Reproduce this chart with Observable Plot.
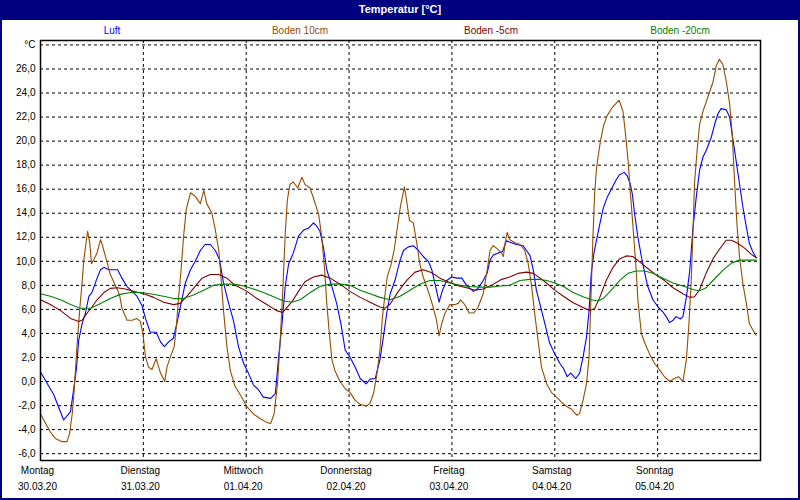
<!DOCTYPE html>
<html>
<head>
<meta charset="utf-8">
<script src="https://cdn.jsdelivr.net/npm/d3@7"></script>
<script src="https://cdn.jsdelivr.net/npm/@observablehq/plot@0.6"></script>
<style>
  html, body { margin: 0; padding: 0; background: #fff; overflow: hidden; }
  #wrap { position: relative; width: 800px; height: 500px; background: #fff; font-family: "Liberation Sans", Arial, sans-serif; }
  #wrap svg { position: absolute; left: 0; top: 0; }
  #titlebar { position: absolute; left: 0; top: 0; width: 800px; height: 20px; background: #000080; color: #fff;
    font-weight: bold; font-size: 11px; line-height: 18px; text-align: center; }
  .leg { position: absolute; top: 25px; font-size: 10px; line-height: 12px; transform: translateX(-50%); white-space: nowrap; }
  .bord { position: absolute; background: #000080; }
</style>
</head>
<body>
<div id="wrap">
  <div id="chart"></div>
</div>
<script>
// ---- data ----
const seriesNames = ["Luft", "Boden 10cm", "Boden -5cm", "Boden -20cm"];
const seriesColors = ["#0000ff", "#964b00", "#800000", "#008000"];
const dayNames = ["Montag", "Dienstag", "Mittwoch", "Donnerstag", "Freitag", "Samstag", "Sonntag"];
const dayDates = ["30.03.20", "31.03.20", "01.04.20", "02.04.20", "03.04.20", "04.04.20", "05.04.20"];
const dayHours = [0, 24, 48, 72, 96, 120, 144];
const yTicks = [-6, -4, -2, 0, 2, 4, 6, 8, 10, 12, 14, 16, 18, 20, 22, 24, 26, 28];

// hours since Monday 30.03.20 00:00 and temperature (°C)
const luftH = [0,3.1,5.4,7,7.6,8.4,8.9,9.7,10.5,11.3,12,13.2,14,14.8,15.9,17.1,18,19,20.2,21.4,22.5,23.7,24.5,25.6,27,28,28.9,29.9,31,31.8,32.8,33.8,35,36.1,37.3,38.4,39.6,40.8,41.8,42.7,43.9,45,46.2,47.4,48.5,49.7,50.9,52,53.7,54.8,55.5,56.3,57.1,57.9,59,60.2,61.4,62.5,63.7,64.5,65.2,66,66.8,68,69.1,70.1,71.1,72.2,73.4,74.6,76,76.9,78.1,79.2,80,80.8,81.6,82.7,83.9,84.7,85.8,87,88.2,89.3,90.5,91.3,92,93,93.8,94.8,95.9,97.1,98.3,99.4,101,102.1,103.3,104.2,104.9,105.6,106.8,107.8,108.7,109.9,111,112.6,113.4,114.2,115,115.7,116.5,117.7,118.8,120,121.2,122,122.9,123.7,124.9,125.8,126.6,127.4,128,128.5,129.1,129.7,130.5,131.3,132.2,133.2,134.2,135.1,136.2,136.9,137.6,138.1,138.6,139.4,140.2,141,141.7,142.9,144.1,145.2,146,146.8,147.6,148.3,149.3,149.9,150.7,151.5,152.2,153,153.8,154.6,155.3,156.5,157.3,158.1,158.8,160,160.8,161.5,162.3,163.1,163.9,164.7,165.4,166.2,167];
const luftV = [0.8,-1.1,-3.2,-2.5,-1.0,1.1,3.4,4.8,5.7,7.1,7.4,8.6,9.3,9.5,9.3,9.3,9.3,8.6,7.9,7.5,7.1,6.3,5.25,4.1,4.1,3.3,2.9,3.3,3.6,4.8,6.5,8.2,9.3,10.0,10.9,11.4,11.4,10.9,10.1,8.2,6.5,5.1,2.9,1.5,0.7,-0.3,-0.7,-1.3,-1.4,-1.0,1.8,4.6,7.9,9.8,10.7,12.1,12.6,12.75,13.2,12.9,12.5,11.2,9.3,7.9,6.5,4.8,2.6,2.05,1.2,0.25,-0.2,0.2,0.25,1.8,3.7,5.7,7.3,8.4,10.1,10.9,11.2,11.3,10.9,10.4,10.0,9.3,8.2,6.6,7.6,8.4,8.7,8.6,8.6,8.0,7.5,7.75,8.4,9.0,10.1,10.5,10.7,10.8,11.7,11.55,11.4,11.3,10.9,10.5,9.25,7.6,6.5,4.8,3.2,2.3,1.5,1.1,0.4,0.7,0.25,0.7,2.05,3.7,5.9,9.0,10.6,11.7,13.1,14.4,15.3,16.0,16.7,17.2,17.4,17.1,16.45,15.6,14.0,12.0,10.4,9.0,7.9,6.8,6.2,5.8,5.4,4.9,5.1,5.4,5.2,5.4,7.0,9.25,12.6,15.3,17.6,18.7,19.2,20.3,21.4,22.3,22.7,22.6,22.0,20.3,18.4,16.45,14.5,12.85,11.5,10.8,10.3];

const boden10H = [0,1.2,2.3,3.5,5,6.2,6.8,7.4,7.8,8.2,8.5,9.2,9.7,10.1,10.5,11,11.5,11.9,12.4,13.2,14,14.4,15.4,16.3,17.2,18,18.5,19,20.2,21.4,22.4,23.3,23.9,24.5,25.2,26,27,28,29,29.5,30.3,31.2,31.7,32.2,32.8,33.4,34,35,36.1,37.3,38.1,38.8,40,40.8,41.6,42.1,42.7,43.5,44.3,45.4,46.6,48.2,49.7,51.3,52.8,53.7,54.5,55.3,55.9,56.5,57.1,57.6,58.2,59,60,61,61.7,62.9,63.7,64.9,65.6,66.3,66.8,67.4,68,68.7,69.9,71.1,72.2,73.4,74.6,76.1,76.9,77.7,78.4,79.2,79.8,80.4,80.9,81.7,82.5,83.3,84,84.9,85.4,86.1,87,87.8,88.5,89.3,90.1,90.9,91.6,92.4,93,93.6,94.4,95.5,96.7,97.5,98,99,100,101.1,102.1,103.3,104.1,104.9,105.6,106.4,107.3,108,108.4,108.9,109.5,110.7,111.9,113,113.8,114.6,115.3,116.1,116.9,118.1,119.2,120.4,121.5,122.7,123.9,125.1,125.8,126.6,127.4,128,128.5,128.9,129.3,129.7,130.1,130.7,131.4,132.2,133.2,134.2,135,135.9,136.5,137.1,137.6,138.2,138.9,139.4,140.2,141,142.1,143.3,144.5,145.6,146.8,147.9,148.9,149.9,150.7,151.3,151.8,152.2,152.6,153.2,153.8,154.6,155.7,156.9,157.7,158.4,159.2,160,160.8,161.4,161.9,162.5,163.1,163.9,164.7,165.4,166.2,167];
const boden10V = [-2.7,-3.5,-4.2,-4.75,-5.0,-5.0,-4.3,-2.7,-1.0,1.2,2.9,6.2,8.2,10.1,11.2,12.5,11.5,9.8,10.1,10.7,11.8,11.4,10.1,8.9,8.2,7.6,7.1,6.1,5.1,5.1,5.25,5.0,4.0,2.05,1.2,1.0,1.9,0.7,0.0,1.2,2.05,2.9,4.6,6.9,9.3,12.1,14.3,15.7,15.4,14.8,15.9,14.8,14.0,12.6,10.9,8.7,5.9,2.9,0.9,-0.4,-1.1,-2.1,-2.7,-3.1,-3.4,-3.5,-2.7,-0.2,3.2,7.3,12.3,15.1,16.4,16.6,16.1,17.0,16.4,16.1,15.25,13.9,12.1,9.3,6.5,4.0,1.8,0.9,0.0,-0.6,-0.9,-1.55,-1.9,-2.05,-1.8,-1.0,0.4,2.6,5.4,7.3,8.7,9.6,10.9,12.9,14.6,16.2,15.1,13.4,13.2,11.5,9.8,8.7,7.9,7.05,6.2,5.1,3.8,4.8,5.7,6.4,6.4,6.5,6.8,6.4,5.7,5.7,6.2,7.3,9.0,10.9,11.3,11.1,10.8,10.4,11.5,12.4,11.8,11.55,11.4,10.9,9.8,7.9,5.7,3.4,1.2,-0.2,-0.9,-1.3,-1.7,-2.05,-2.3,-2.8,-2.65,-1.55,-0.2,2.05,7.6,12.0,15.6,17.6,18.7,20.1,21.3,22.1,22.7,23.1,23.4,22.5,20.6,18.4,15.9,13.1,9.8,6.75,4.0,3.2,2.3,1.5,0.95,0.4,0.0,0.25,0.4,0.0,1.8,4.8,8.1,12.0,16.45,19.2,21.4,22.5,23.65,24.9,26.3,26.8,26.4,25.0,23.1,20.6,17.0,13.1,10.4,8.1,6.5,4.8,4.3,3.85];

const boden5H = [0,2.3,4.7,7,8.9,9.7,10.9,12,13.2,14.8,16.3,17.9,19.8,21.7,24.1,26.4,28.7,31.1,32.6,34.2,35.7,37.7,39.6,41.6,43.5,45.4,48.2,50.5,52.8,55.1,56.5,58.6,60.2,61.7,63.7,65.6,67.6,69.9,72.2,74.6,76.9,79.2,80.4,81.6,83.5,85.4,87.4,89.3,91.3,93.2,95.1,97.1,99.4,101.4,103.3,105.2,107.6,109.5,111.5,113.4,115,117.7,120,122,124.3,126.6,128.1,129.3,130.5,132,133.6,135.1,136.7,138.2,139.8,141.7,143.7,145.6,147.6,149.9,151.5,152.6,153.8,155.3,156.9,158.4,160,161.2,162.7,164.3,165.8,167];
const boden5V = [6.8,6.4,5.9,5.25,5.0,5.1,5.7,6.2,6.8,7.4,7.75,7.8,7.7,7.5,7.3,7.0,6.6,6.4,6.5,7.1,7.75,8.6,8.9,8.9,8.6,8.0,7.5,6.9,6.4,5.9,5.75,6.6,7.5,8.3,8.7,8.85,8.6,8.1,7.5,7.0,6.6,6.2,6.1,6.45,7.5,8.4,9.1,9.3,9.05,8.6,8.3,8.0,7.8,7.6,7.7,8.0,8.5,8.7,9.0,9.1,9.0,8.3,7.6,7.1,6.55,6.15,5.9,6.05,7.0,8.4,9.5,10.2,10.45,10.4,9.95,9.4,8.85,8.4,7.8,7.3,7.0,7.05,7.65,9.0,10.2,11.0,11.75,11.75,11.5,11.1,10.6,10.3];

const boden20H = [0,2.3,4.7,7,9.3,11.7,14,16.3,18.6,21,23.3,25.6,28.7,31.1,33.4,35.7,38.1,40.4,42.7,45,47.4,49.7,52,54.4,56.7,58.6,60.6,62.9,65.2,67.6,69.9,72.2,74.6,76.9,79.2,81.6,83.9,86.2,88.5,90.9,93.2,95.5,97.9,100.2,102.5,104.9,107.2,109.5,111.9,114.2,116.5,118.1,120,122,124.3,126.6,128.5,130.1,131.3,133.2,135.1,137.1,139,141,142.9,145.2,147.6,149.9,152.2,153.8,155.3,157.3,159.2,161.2,163.1,165,167];
const boden20V = [7.3,7.1,6.8,6.4,6.1,6.1,6.5,6.9,7.25,7.4,7.4,7.3,7.1,6.9,6.9,7.2,7.6,8.0,8.1,8.1,7.95,7.7,7.4,7.05,6.7,6.6,6.8,7.4,7.9,8.1,8.1,8.0,7.6,7.3,7.0,6.8,7.1,7.6,8.1,8.4,8.4,8.2,8.0,7.9,7.85,7.85,7.95,8.0,8.4,8.5,8.5,8.4,8.2,7.9,7.4,7.05,6.8,6.7,6.9,7.6,8.4,9.0,9.2,9.2,9.0,8.6,8.2,7.95,7.65,7.55,7.8,8.55,9.25,9.85,10.1,10.1,10.1];

// ---- build ----
const toRows = (H, V) => H.map((h, i) => ({h, v: V[i]}));
const allSeries = [
  toRows(luftH, luftV),
  toRows(boden10H, boden10V),
  toRows(boden5H, boden5V),
  toRows(boden20H, boden20V)
];
const fmt = d => d === 28 ? "°C" : d.toFixed(1).replace(".", ",");

const plot = Plot.plot({
  width: 800,
  height: 500,
  marginLeft: 40,
  marginRight: 40,
  marginTop: 40,
  marginBottom: 40,
  style: {background: "transparent", fontFamily: "'Liberation Sans', Arial, sans-serif", fontSize: "10px", color: "#000"},
  x: {domain: [0, 168], axis: null},
  y: {domain: [-6.57, 28.37], axis: null},
  marks: [
    Plot.ruleY(yTicks, {y: d => d, stroke: "#000", strokeDasharray: "3,3", strokeWidth: 1}),
    Plot.ruleX(dayHours.slice(1), {x: d => d, stroke: "#000", strokeDasharray: "3,3", strokeWidth: 1}),
    ...allSeries.map((rows, i) => Plot.line(rows, {x: "h", y: "v", stroke: seriesColors[i], strokeWidth: 1.1})),
    Plot.frame({stroke: "#000", strokeWidth: 1.5}),
    Plot.axisY({ticks: yTicks, tickSize: 0, tickPadding: 5, tickFormat: fmt, fontSize: 10, label: null}),
    Plot.text(dayHours, {x: d => d, text: (d, i) => dayNames[i], frameAnchor: "bottom", dy: 13, dx: -3, fontSize: 10, fill: "#000"}),
    Plot.text(dayHours, {x: d => d, text: (d, i) => dayDates[i], frameAnchor: "bottom", dy: 29, dx: -3, fontSize: 10, fill: "#000"})
  ]
});

const wrap = document.getElementById("wrap");
document.getElementById("chart").appendChild(plot);

// title bar, legend and window frame
const tb = document.createElement("div");
tb.id = "titlebar";
tb.textContent = "Temperatur [°C]";
wrap.appendChild(tb);

const legX = [112, 300, 491, 680];
seriesNames.forEach((n, i) => {
  const d = document.createElement("div");
  d.className = "leg";
  d.style.left = legX[i] + "px";
  d.style.color = seriesColors[i];
  d.textContent = n;
  wrap.appendChild(d);
});

[["0px", "0px", "2px", "500px"], ["798px", "0px", "2px", "500px"], ["0px", "498px", "800px", "2px"]].forEach(([l, t, w, h]) => {
  const b = document.createElement("div");
  b.className = "bord";
  b.style.left = l; b.style.top = t; b.style.width = w; b.style.height = h;
  wrap.appendChild(b);
});
</script>
</body>
</html>
